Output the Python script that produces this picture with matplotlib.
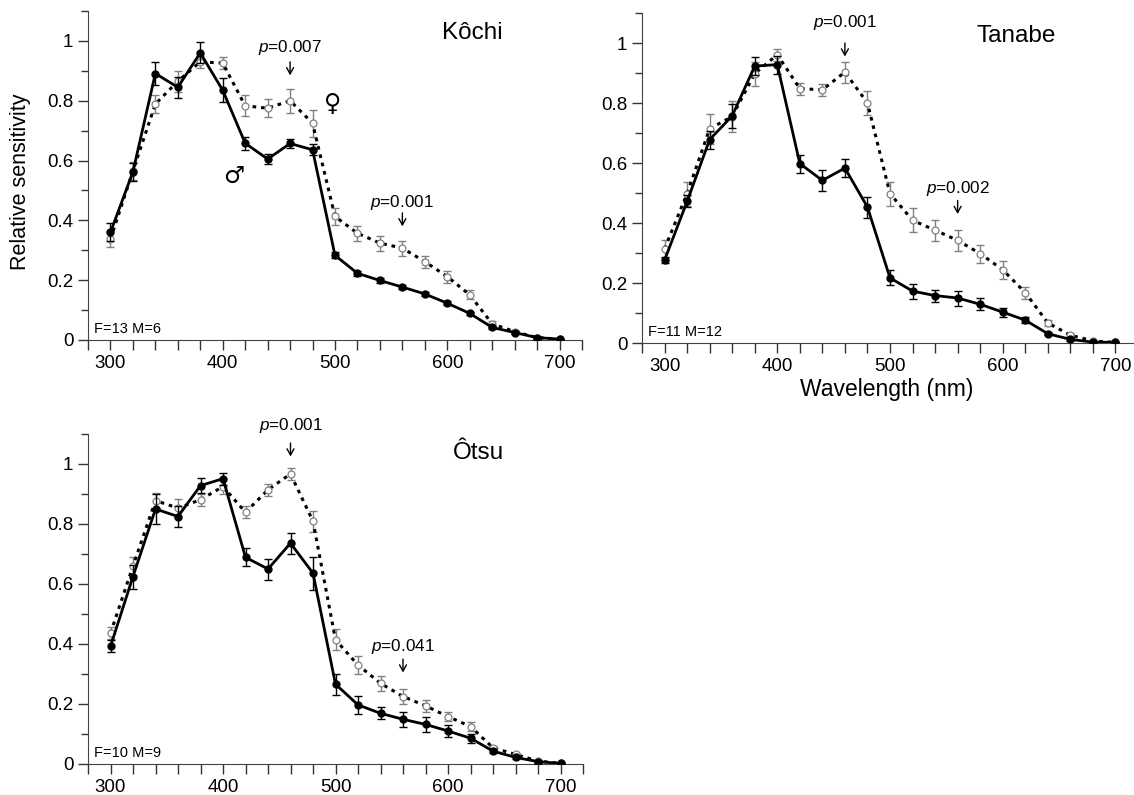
import numpy as np
import matplotlib
matplotlib.use("Agg")
import matplotlib.pyplot as plt
from matplotlib.ticker import MultipleLocator

plt.rcParams["font.family"] = ["Liberation Sans", "DejaVu Sans"]
plt.rcParams["mathtext.fontset"] = "custom"
plt.rcParams["mathtext.it"] = "Liberation Sans:italic"
plt.rcParams["mathtext.rm"] = "Liberation Sans"

# ---------------------------------------------------------------------------
# Data
# ---------------------------------------------------------------------------

wavelength = np.arange(300, 701, 20)

# Kochi
kochi_male = [0.360, 0.562, 0.891, 0.845, 0.960, 0.835, 0.658, 0.605, 0.657, 0.636,
              0.283, 0.223, 0.199, 0.177, 0.154, 0.123, 0.089, 0.042, 0.025, 0.008, 0.003]
kochi_male_err = [0.03, 0.03, 0.04, 0.035, 0.035, 0.04, 0.022, 0.018, 0.016, 0.018,
                  0.01, 0.008, 0.008, 0.008, 0.007, 0.007, 0.006, 0.005, 0.004, 0.003, 0.002]
kochi_female = [0.337, 0.565, 0.789, 0.865, 0.930, 0.926, 0.783, 0.775, 0.800, 0.725,
                0.413, 0.357, 0.324, 0.307, 0.262, 0.212, 0.151, 0.054, 0.028, 0.008, 0.003]
kochi_female_err = [0.025, 0.03, 0.03, 0.035, 0.02, 0.02, 0.035, 0.03, 0.04, 0.045,
                    0.03, 0.025, 0.025, 0.025, 0.02, 0.02, 0.015, 0.01, 0.006, 0.004, 0.002]

# Tanabe
tanabe_male = [0.276, 0.472, 0.678, 0.757, 0.923, 0.928, 0.598, 0.542, 0.583, 0.453,
               0.217, 0.173, 0.158, 0.150, 0.129, 0.103, 0.076, 0.031, 0.012, 0.003, 0.002]
tanabe_male_err = [0.01, 0.02, 0.03, 0.04, 0.03, 0.03, 0.03, 0.035, 0.03, 0.035,
                   0.025, 0.025, 0.02, 0.025, 0.02, 0.015, 0.01, 0.005, 0.004, 0.002, 0.002]
tanabe_female = [0.314, 0.498, 0.714, 0.755, 0.898, 0.961, 0.848, 0.844, 0.903, 0.800,
                 0.498, 0.409, 0.376, 0.342, 0.298, 0.244, 0.168, 0.067, 0.026, 0.007, 0.002]
tanabe_female_err = [0.03, 0.04, 0.05, 0.05, 0.04, 0.02, 0.02, 0.02, 0.035, 0.04,
                     0.04, 0.04, 0.035, 0.035, 0.03, 0.03, 0.02, 0.01, 0.006, 0.003, 0.002]

# Otsu
otsu_male = [0.392, 0.625, 0.850, 0.825, 0.928, 0.951, 0.689, 0.650, 0.736, 0.636,
             0.266, 0.197, 0.169, 0.149, 0.132, 0.110, 0.086, 0.043, 0.022, 0.008, 0.002]
otsu_male_err = [0.02, 0.04, 0.05, 0.035, 0.025, 0.02, 0.03, 0.035, 0.035, 0.055,
                 0.035, 0.03, 0.02, 0.025, 0.025, 0.02, 0.015, 0.005, 0.004, 0.003, 0.002]
otsu_female = [0.436, 0.660, 0.878, 0.853, 0.881, 0.925, 0.839, 0.914, 0.967, 0.809,
               0.414, 0.330, 0.269, 0.225, 0.194, 0.158, 0.125, 0.054, 0.032, 0.010, 0.002]
otsu_female_err = [0.02, 0.03, 0.025, 0.03, 0.02, 0.025, 0.02, 0.02, 0.02, 0.035,
                   0.035, 0.03, 0.025, 0.025, 0.02, 0.015, 0.015, 0.005, 0.004, 0.003, 0.002]

panel_names = ["Kôchi", "Tanabe", "Ôtsu"]
sample_sizes = ["F=13 M=6", "F=11 M=12", "F=10 M=9"]

# p-value notes: wavelength, label
p_wavelengths = [[460, 560], [460, 560], [460, 560]]
p_values = [["0.007", "0.001"], ["0.001", "0.002"], ["0.001", "0.041"]]

# ---------------------------------------------------------------------------
# Plotting
# ---------------------------------------------------------------------------

fig = plt.figure(figsize=(11.34, 7.95), dpi=100)
W, H = 1134.0, 795.0

# axes boxes in pixels: left, top, right, bottom
boxes = [(88, 11, 582, 340), (642, 13, 1138, 343), (88, 434, 583, 764)]

datasets = [
    (kochi_male, kochi_male_err, kochi_female, kochi_female_err),
    (tanabe_male, tanabe_male_err, tanabe_female, tanabe_female_err),
    (otsu_male, otsu_male_err, otsu_female, otsu_female_err),
]
title_pos = [(622, 1.025), (612, 1.025), (627, 1.037)]
# (text centre y, arrow top y) for each note
note_heights = [[(0.977, 0.93), (0.46, 0.425)],
                [(1.07, 1.0), (0.515, 0.475)],
                [(1.13, 1.07), (0.39, 0.35)]]

axes = []
for i, (l, t, r, b) in enumerate(boxes):
    ax = fig.add_axes([l / W, 1 - b / H, (r - l) / W, (b - t) / H])
    axes.append(ax)
    m, me, f, fe = datasets[i]

    ax.errorbar(wavelength, f, yerr=fe, fmt="none", ecolor="#808080",
                elinewidth=1.0, capsize=3, capthick=1.0, zorder=2)
    ax.plot(wavelength, f, linestyle=(0, (1.2, 1.6)), color="black", lw=2.2,
            marker="o", ms=5, mfc="white", mec="#808080", mew=0.9, zorder=3)
    ax.errorbar(wavelength, m, yerr=me, fmt="none", ecolor="black",
                elinewidth=1.0, capsize=3, capthick=1.0, zorder=4)
    ax.plot(wavelength, m, "-", color="black", lw=2.0,
            marker="o", ms=5, mfc="black", mec="black", zorder=5)

    ax.set_xlim(280, 720)
    ax.set_ylim(0, 1.1)
    ax.xaxis.set_major_locator(MultipleLocator(100))
    ax.xaxis.set_minor_locator(MultipleLocator(20))
    ax.yaxis.set_minor_locator(MultipleLocator(0.1))
    ax.set_yticks([0, 0.2, 0.4, 0.6, 0.8, 1.0])
    ax.set_yticklabels(["0", "0.2", "0.4", "0.6", "0.8", "1"])
    ax.tick_params(axis="both", which="both", direction="out", labelsize=13.5,
                   width=1.0, color="#333333")
    ax.tick_params(axis="x", which="both", length=7)
    ax.tick_params(axis="y", which="major", length=7)
    ax.tick_params(axis="y", which="minor", length=5)
    for side in ("top", "right"):
        ax.spines[side].set_visible(False)
    ax.spines["left"].set_color("#444444")
    ax.spines["bottom"].set_color("#444444")

    ax.text(title_pos[i][0], title_pos[i][1], panel_names[i], fontsize=17.5,
            ha="center", va="center")
    ax.text(285, 0.012, sample_sizes[i], fontsize=10.5, ha="left", va="bottom")

    for wl, lab, (yt, ya) in zip(p_wavelengths[i], p_values[i], note_heights[i]):
        ax.text(wl, yt, r"$p$=" + lab, fontsize=12.3, ha="center",
                va="center", clip_on=False)
        ax.annotate("", xy=(wl, ya - 0.045), xytext=(wl, ya),
                    arrowprops=dict(arrowstyle="->,head_length=0.45,head_width=0.25",
                                    lw=1.0, color="black", shrinkA=0, shrinkB=0),
                    annotation_clip=False)

axes[0].text(498, 0.79, "♀", fontsize=17, ha="center", va="center",
             family="DejaVu Sans")
axes[0].text(410, 0.55, "♂", fontsize=17, ha="center", va="center",
             family="DejaVu Sans")
axes[0].set_ylabel("Relative sensitivity", fontsize=15.5)
axes[0].yaxis.set_label_coords(-0.115, 0.48)
axes[1].set_xlabel("Wavelength (nm)", fontsize=16.5)
axes[1].xaxis.set_label_coords(0.494, -0.105)

fig.savefig("out.png", dpi=100)
